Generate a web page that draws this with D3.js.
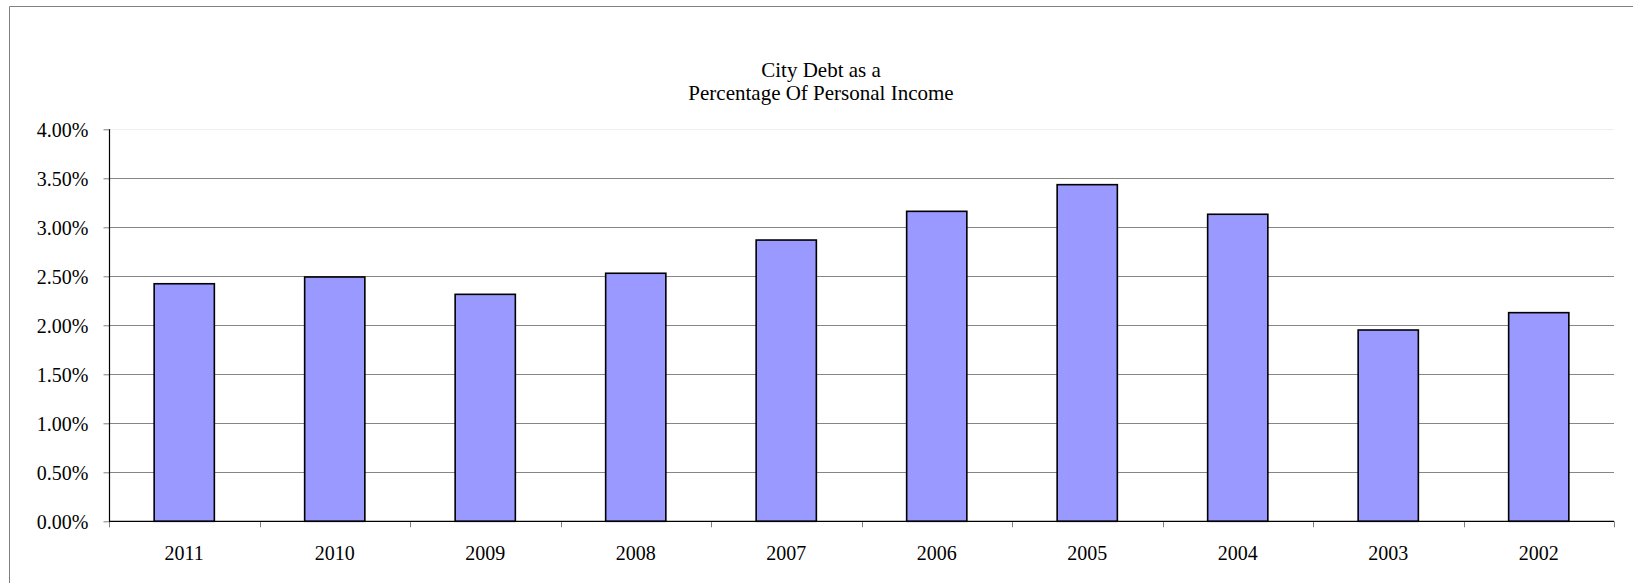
<!DOCTYPE html>
<html>
<head>
<meta charset="utf-8">
<script src="https://cdn.jsdelivr.net/npm/d3@7"></script>
<style>
  html, body { margin: 0; padding: 0; background: #fff; overflow: hidden; }
  svg { display: block; }
  text { font-family: "Liberation Serif", "Times New Roman", serif; fill: #000; }
</style>
</head>
<body>
<svg id="chart" width="1633" height="583"></svg>
<script>
const categories = ["2011", "2010", "2009", "2008", "2007", "2006", "2005", "2004", "2003", "2002"];
const values = [0.02424, 0.02493, 0.02316, 0.02531, 0.02870, 0.03163, 0.03435, 0.03133, 0.01952, 0.02129];
const yTicks = [0, 0.005, 0.01, 0.015, 0.02, 0.025, 0.03, 0.035, 0.04];
const titleLines = ["City Debt as a", "Percentage Of Personal Income"];

(function () {
const svg = d3.select("#chart");
const pLeft = 109, pRight = 1614, pTop = 129.3, pBottom = 521.3;

// outer chart border (left and top visible)
svg.append("line").attr("x1", 9.5).attr("x2", 9.5).attr("y1", 6.5).attr("y2", 583)
  .attr("stroke", "#808080").attr("stroke-width", 1);
svg.append("line").attr("x1", 9.5).attr("x2", 1633).attr("y1", 6.5).attr("y2", 6.5)
  .attr("stroke", "#808080").attr("stroke-width", 1);

const x = d3.scaleBand().domain(categories).range([pLeft, pRight]).paddingInner(0.6).paddingOuter(0.3);
const y = d3.scaleLinear().domain([0, 0.04]).range([pBottom, pTop]);

// gridlines
svg.append("g").selectAll("line").data(yTicks.filter(d => d > 0)).join("line")
  .attr("x1", pLeft).attr("x2", pRight)
  .attr("y1", d => Math.round(y(d)) + 0.5).attr("y2", d => Math.round(y(d)) + 0.5)
  .attr("stroke", d => d === 0.04 ? "#eeeeee" : "#868686").attr("stroke-width", 1);

// y axis
const fmt = d3.format(".2%");
const yAxis = d3.axisLeft(y).tickValues(yTicks).tickFormat(fmt).tickSize(6).tickPadding(15);
const gy = svg.append("g").attr("transform", `translate(${pLeft + 0.5},0)`).call(yAxis);
gy.select(".domain").remove();
gy.selectAll(".tick line").attr("stroke", "#808080");
gy.selectAll(".tick text").attr("font-size", 20).attr("font-family", "Liberation Serif").attr("fill", "#000").attr("dy", "0.35em");
svg.append("line").attr("x1", pLeft + 0.5).attr("x2", pLeft + 0.5).attr("y1", pTop).attr("y2", pBottom)
  .attr("stroke", "#000").attr("stroke-width", 1.2);

// bars
svg.append("g").selectAll("rect").data(values).join("rect")
  .attr("x", (d, i) => x(categories[i]))
  .attr("width", x.bandwidth())
  .attr("y", d => y(d))
  .attr("height", d => y(0) - y(d))
  .attr("fill", "#9999ff")
  .attr("stroke", "#000")
  .attr("stroke-width", 1.6);

// x axis line and ticks at band boundaries
const half = (x.step() - x.bandwidth()) / 2;
const bounds = categories.map(c => x(c) - half).concat([x(categories[categories.length - 1]) + x.bandwidth() + half]);
svg.append("g").selectAll("line").data(bounds).join("line")
  .attr("x1", d => Math.round(d) + 0.5).attr("x2", d => Math.round(d) + 0.5)
  .attr("y1", pBottom).attr("y2", pBottom + 6)
  .attr("stroke", "#808080").attr("stroke-width", 1);
svg.append("line").attr("x1", pLeft).attr("x2", pRight).attr("y1", pBottom).attr("y2", pBottom)
  .attr("stroke", "#000").attr("stroke-width", 1.2);

svg.append("g").selectAll("text").data(categories).join("text")
  .attr("x", d => x(d) + x.bandwidth() / 2)
  .attr("y", 560)
  .attr("text-anchor", "middle")
  .attr("font-size", 20)
  .text(d => d);

// title
svg.append("g").selectAll("text").data(titleLines).join("text")
  .attr("x", 821)
  .attr("y", (d, i) => 76.5 + i * 23.5)
  .attr("text-anchor", "middle")
  .attr("font-size", 21)
  .text(d => d);
})();
</script>
</body>
</html>
